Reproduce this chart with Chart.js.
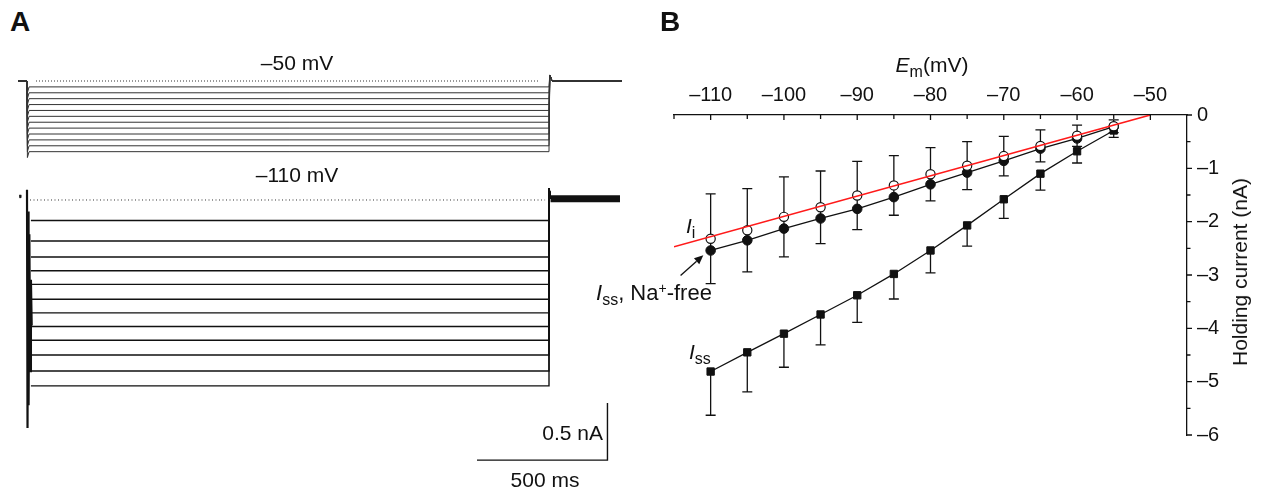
<!DOCTYPE html>
<html><head><meta charset="utf-8">
<script src="https://cdn.jsdelivr.net/npm/chart.js@4.4.1/dist/chart.umd.min.js"></script>
<style>
html,body{margin:0;padding:0;background:#fff;}
body{width:1261px;height:490px;position:relative;overflow:hidden;font-family:'Liberation Sans',Arial,sans-serif;color:#111;}
canvas{position:absolute;}
.t{position:absolute;font-size:21px;line-height:20px;white-space:nowrap;}
.pl{position:absolute;font-size:28px;line-height:28px;font-weight:bold;}
.sub{font-size:16px;position:relative;top:5px;}
.sup{font-size:14px;position:relative;top:-7px;}
</style></head><body>
<canvas id="vc" width="640" height="110" style="left:0;top:60px"></canvas>
<canvas id="ic" width="640" height="290" style="left:0;top:180px"></canvas>
<canvas id="bc" width="601" height="490" style="left:660px;top:0"></canvas>

<div class="pl" style="left:10px;top:8px">A</div>
<div class="pl" style="left:660px;top:8px">B</div>
<div class="t" style="left:297px;top:53px;transform:translateX(-50%)">–50 mV</div>
<div class="t" style="left:297px;top:165px;transform:translateX(-50%)">–110 mV</div>
<div class="t" style="right:658px;top:423px">0.5 nA</div>
<div class="t" style="left:545px;top:470px;transform:translateX(-50%)">500 ms</div>
<div class="t" style="left:932px;top:55px;transform:translateX(-50%)"><i>E</i><span class="sub">m</span>(mV)</div>
<div class="t" style="left:1240px;top:272px;transform:translate(-50%,-50%) rotate(-90deg)">Holding current (nA)</div>
<div class="t" style="left:686px;top:216px"><i>I</i><span class="sub">i</span></div>
<div class="t" style="left:596px;top:283px;font-size:22px"><i>I</i><span class="sub">ss</span>, Na<span class="sup">+</span>-free</div>
<div class="t" style="left:689px;top:342px"><i>I</i><span class="sub">ss</span></div>

<script>
// ---------- Panel A data ----------
const stepMs = 2000;
const holdingMv = -50;
const stepMv = [-55,-60,-65,-70,-75,-80,-85,-90,-95,-100,-105,-110];
const onsetHookMv = 5;          // size of the capacitive hook at step onset
const offsetPeakMv = -44.9;     // overshoot at the end of the step
const traceNa = [-0.18,-0.36,-0.50,-0.62,-0.74,-0.87,-0.99,-1.11,-1.23,-1.36,-1.50,-1.63];
const offsetPeakNa = 0.105;
const tailNa = 0.01;
const capMs = [0,2,4,6,9,12,15,18];
const capNa = [0.09,-2.0,-0.1,-1.8,-0.3,-1.5,-0.7,-1.1];
const markMs = [-29,-27.5,-26,-24.5,-23];
const markNa = [0.02,0.045,0.02,0.045,0.02];
const scaleBarMs = 500;
const scaleBarNa = 0.5;

// ---------- Panel B data ----------
const emMv = [-110,-105,-100,-95,-90,-85,-80,-75,-70,-65,-60,-55];
const iiNa = [-2.32,-2.16,-1.91,-1.73,-1.51,-1.32,-1.11,-0.95,-0.77,-0.58,-0.39,-0.21];
const iiSdNa = [0.84,0.78,0.75,0.68,0.64,0.56,0.50,0.45,0.37,0.30,0.20,0.12];
const naFreeNa = [-2.54,-2.35,-2.13,-1.94,-1.76,-1.54,-1.30,-1.08,-0.86,-0.63,-0.44,-0.22];
const issNa = [-4.81,-4.45,-4.10,-3.74,-3.38,-2.98,-2.54,-2.07,-1.58,-1.10,-0.68,-0.29];
const issErrNa = [0.82,0.74,0.63,0.57,0.51,0.47,0.42,0.39,0.36,0.31,0.22,0.13];
const fitMv = [-115,-50];
const fitNa = [-2.47,0];
const xTicksMv = [-110,-100,-90,-80,-70,-60,-50];
const xMinorMv = [-115,-105,-95,-85,-75,-65,-55];
const yTicksNa = [0,-1,-2,-3,-4,-5,-6];
const yMinorNa = [-0.5,-1.5,-2.5,-3.5,-4.5,-5.5];
const arrowFrom = [-114.1,-3.01];
const arrowTo = [-111.0,-2.63];

// ---------- layout constants (not data) ----------
const tMin = -34.48, tMax = 2291.2;
const vMinMv = -125.55, vMaxMv = -32.17;
const iMinNa = -2.368, iMaxNa = 0.1754;
const barStartMs = 1724, barBaseNa = -2.281;
const dotVMs = [34.5,1958], dotIMs = [11.5,1985];
const FONT = "'Liberation Sans', Arial, sans-serif";

function pts(xs, ys){ return xs.map((x,i)=>({x:x,y:ys[i]})); }
const line = (data, opts) => Object.assign({data:data, borderColor:'#111', borderWidth:1, pointRadius:0, tension:0, fill:false}, opts||{});

const baseA = (ymin, ymax) => ({
  responsive:false, animation:false, devicePixelRatio:1,
  layout:{padding:{left:18,right:15,top:0,bottom:0}},
  plugins:{legend:{display:false}, tooltip:{enabled:false}},
  events:[],
  scales:{
    x:{type:'linear', display:false, min:tMin, max:tMax},
    y:{type:'linear', display:false, min:ymin, max:ymax}
  }
});

// Voltage traces
const vSets = stepMv.map(V => line([
  {x:tMin,y:holdingMv},{x:0,y:holdingMv},{x:1.5,y:V-onsetHookMv},{x:8,y:V},
  {x:stepMs,y:V},{x:stepMs+3,y:offsetPeakMv},{x:stepMs+12,y:holdingMv},{x:tMax-12,y:holdingMv}
], {borderColor:'#333', borderWidth:1}));
vSets.push(line([{x:dotVMs[0],y:holdingMv},{x:dotVMs[1],y:holdingMv}], {borderDash:[1,2], borderColor:'#333'}));
new Chart(document.getElementById('vc'), {type:'line', data:{datasets:vSets}, options:baseA(vMinMv, vMaxMv)});

// Current traces
const iSets = traceNa.map(L => line([
  {x:15,y:L},{x:stepMs,y:L},{x:stepMs,y:offsetPeakNa},{x:stepMs+6,y:tailNa}
], {borderColor:'#111', borderWidth:1.4}));
iSets.push(line(pts(capMs, capNa), {borderWidth:2.2}));
iSets.push(line([{x:stepMs+6,y:tailNa},{x:2272,y:tailNa}], {borderWidth:7}));
iSets.push(line(pts(markMs, markNa), {borderWidth:1}));
iSets.push(line([{x:dotIMs[0],y:0},{x:dotIMs[1],y:0}], {borderDash:[1,2.5], borderColor:'#333'}));
iSets.push(line([{x:barStartMs,y:barBaseNa},{x:barStartMs+scaleBarMs,y:barBaseNa},{x:barStartMs+scaleBarMs,y:barBaseNa+scaleBarNa}], {borderWidth:1.4}));
new Chart(document.getElementById('ic'), {type:'line', data:{datasets:iSets}, options:baseA(iMinNa, iMaxNa)});

// ---------- Panel B ----------
const bDecor = {
  id:'bDecor',
  beforeDatasetsDraw(chart){
    const c = chart.ctx, xs = chart.scales.x, ys = chart.scales.y;
    c.save(); c.strokeStyle = '#111'; c.lineWidth = 1.3;
    const cap = 5;
    emMv.forEach((v,i)=>{
      const x = xs.getPixelForValue(v);
      const yt = ys.getPixelForValue(iiNa[i]+iiSdNa[i]);
      const yb = ys.getPixelForValue(iiNa[i]-iiSdNa[i]);
      c.beginPath(); c.moveTo(x,yt); c.lineTo(x,yb);
      c.moveTo(x-cap,yt); c.lineTo(x+cap,yt);
      c.moveTo(x-cap,yb); c.lineTo(x+cap,yb); c.stroke();
      const y0 = ys.getPixelForValue(issNa[i]);
      const y1 = ys.getPixelForValue(issNa[i]-issErrNa[i]);
      c.beginPath(); c.moveTo(x,y0); c.lineTo(x,y1);
      c.moveTo(x-cap,y1); c.lineTo(x+cap,y1); c.stroke();
    });
    c.restore();
  },
  afterDraw(chart){
    const c = chart.ctx, xs = chart.scales.x, ys = chart.scales.y, a = chart.chartArea;
    c.save(); c.strokeStyle = '#111'; c.lineWidth = 1.3;
    c.beginPath();
    xTicksMv.forEach(v=>{ const x = xs.getPixelForValue(v); c.moveTo(x,a.top); c.lineTo(x,a.top+5); });
    xMinorMv.forEach(v=>{ const x = xs.getPixelForValue(v); c.moveTo(x,a.top); c.lineTo(x,a.top+4); });
    yTicksNa.forEach(v=>{ const y = ys.getPixelForValue(v); c.moveTo(a.right,y); c.lineTo(a.right+5,y); });
    yMinorNa.forEach(v=>{ const y = ys.getPixelForValue(v); c.moveTo(a.right,y); c.lineTo(a.right+3.5,y); });
    c.stroke();
    // arrow
    const x1 = xs.getPixelForValue(arrowFrom[0]), y1 = ys.getPixelForValue(arrowFrom[1]);
    const x2 = xs.getPixelForValue(arrowTo[0]), y2 = ys.getPixelForValue(arrowTo[1]);
    const ang = Math.atan2(y2-y1, x2-x1), hl = 9, hw = 4;
    const bx = x2 - hl*Math.cos(ang), by = y2 - hl*Math.sin(ang);
    c.beginPath(); c.moveTo(x1,y1); c.lineTo(bx,by); c.stroke();
    c.fillStyle = '#111'; c.beginPath();
    c.moveTo(x2,y2);
    c.lineTo(bx + hw*Math.sin(ang), by - hw*Math.cos(ang));
    c.lineTo(bx - hw*Math.sin(ang), by + hw*Math.cos(ang));
    c.closePath(); c.fill();
    c.restore();
  }
};

const fmt = v => v === 0 ? '0' : '–' + Math.abs(v);
new Chart(document.getElementById('bc'), {
  type:'line',
  data:{datasets:[
    {label:'fit', data:pts(fitMv, fitNa), borderColor:'#ff1a1a', borderWidth:1.6, pointRadius:0, order:0},
    {label:'Ii', data:pts(emMv, iiNa), showLine:false, pointRadius:4.6, pointBorderWidth:1.2, pointBorderColor:'#111', pointBackgroundColor:'#fff', order:1},
    {label:'Iss Na-free', data:pts(emMv, naFreeNa), borderColor:'#111', borderWidth:1.3, pointRadius:4.8, pointBorderWidth:1, pointBorderColor:'#111', pointBackgroundColor:'#111', order:2},
    {label:'Iss', data:pts(emMv, issNa), borderColor:'#111', borderWidth:1.3, pointStyle:'rect', pointRadius:5.2, pointBorderWidth:1, pointBorderColor:'#111', pointBackgroundColor:'#111', order:3}
  ]},
  options:{
    responsive:false, animation:false, devicePixelRatio:1, events:[],
    layout:{padding:{left:14,right:0,top:0,bottom:55}},
    plugins:{legend:{display:false}, tooltip:{enabled:false}},
    scales:{
      x:{type:'linear', position:'top', min:-115, max:-45,
        afterBuildTicks:s=>{ s.ticks = xTicksMv.map(v=>({value:v})); },
        afterFit:s=>{ s.height = 115; },
        grid:{display:true, drawOnChartArea:false, drawTicks:false},
        border:{display:true, color:'#111', width:1.3},
        ticks:{padding:8, maxRotation:0, autoSkip:false, color:'#111', font:{family:FONT,size:20}, callback:fmt}
      },
      y:{type:'linear', position:'right', min:-6, max:0,
        afterBuildTicks:s=>{ s.ticks = yTicksNa.map(v=>({value:v})); },
        afterFit:s=>{ s.width = 74; },
        grid:{display:true, drawOnChartArea:false, drawTicks:false},
        border:{display:true, color:'#111', width:1.3},
        ticks:{padding:10, autoSkip:false, color:'#111', font:{family:FONT,size:20}, callback:fmt}
      }
    }
  },
  plugins:[bDecor]
});
</script>
</body></html>
